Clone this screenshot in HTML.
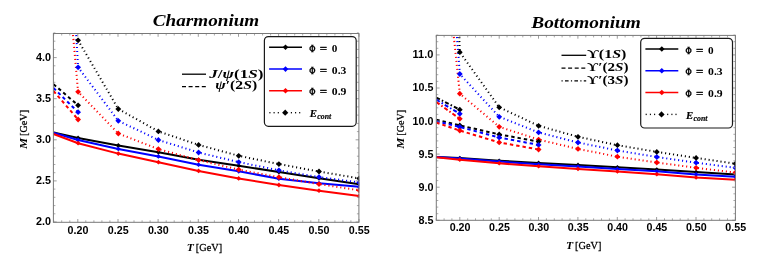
<!DOCTYPE html>
<html><head><meta charset="utf-8"><title>plot</title>
<style>html,body{margin:0;padding:0;background:#fff;}svg{display:block;will-change:transform;}text{fill:#000;}</style></head>
<body><svg width="763" height="267" viewBox="0 0 763 267">
<defs><clipPath id="cl"><rect x="53.4" y="33.5" width="305.8" height="188.8"/></clipPath>
<clipPath id="cr"><rect x="436.3" y="35.4" width="299.1" height="184.9"/></clipPath></defs>
<rect width="763" height="267" fill="#fff"/>
<g clip-path="url(#cl)">
<polyline points="53.5,132.4 78.1,138.0 118.3,145.5 158.4,152.3 198.6,159.8 238.7,165.7 278.9,172.1 319.0,178.3 359.2,184.2" fill="none" stroke="#000" stroke-width="2.0"/>
<path d="M75.7 138.0L78.1 135.6L80.5 138.0L78.1 140.4Z" fill="#000"/>
<path d="M115.9 145.5L118.3 143.1L120.7 145.5L118.3 147.9Z" fill="#000"/>
<path d="M156.0 152.3L158.4 149.9L160.8 152.3L158.4 154.7Z" fill="#000"/>
<path d="M196.2 159.8L198.6 157.4L201.0 159.8L198.6 162.2Z" fill="#000"/>
<path d="M236.3 165.7L238.7 163.3L241.1 165.7L238.7 168.1Z" fill="#000"/>
<path d="M276.5 172.1L278.9 169.7L281.3 172.1L278.9 174.5Z" fill="#000"/>
<path d="M316.6 178.3L319.0 175.9L321.4 178.3L319.0 180.7Z" fill="#000"/>
<path d="M356.8 184.2L359.2 181.8L361.6 184.2L359.2 186.6Z" fill="#000"/>
<polyline points="53.5,132.8 78.1,140.0 118.3,148.9 158.4,156.4 198.6,164.7 238.7,171.3 278.9,178.7 319.0,183.3 359.2,186.8" fill="none" stroke="#0000ff" stroke-width="2.0"/>
<path d="M75.7 140.0L78.1 137.6L80.5 140.0L78.1 142.4Z" fill="#0000ff"/>
<path d="M115.9 148.9L118.3 146.5L120.7 148.9L118.3 151.3Z" fill="#0000ff"/>
<path d="M156.0 156.4L158.4 154.0L160.8 156.4L158.4 158.8Z" fill="#0000ff"/>
<path d="M196.2 164.7L198.6 162.3L201.0 164.7L198.6 167.1Z" fill="#0000ff"/>
<path d="M236.3 171.3L238.7 168.9L241.1 171.3L238.7 173.7Z" fill="#0000ff"/>
<path d="M276.5 178.7L278.9 176.3L281.3 178.7L278.9 181.1Z" fill="#0000ff"/>
<path d="M316.6 183.3L319.0 180.9L321.4 183.3L319.0 185.7Z" fill="#0000ff"/>
<path d="M356.8 186.8L359.2 184.4L361.6 186.8L359.2 189.2Z" fill="#0000ff"/>
<polyline points="53.5,134.0 78.1,143.2 118.3,153.6 158.4,162.2 198.6,170.9 238.7,178.4 278.9,185.0 319.0,190.7 359.2,196.1" fill="none" stroke="#ff0000" stroke-width="2.0"/>
<path d="M75.7 143.2L78.1 140.8L80.5 143.2L78.1 145.6Z" fill="#ff0000"/>
<path d="M115.9 153.6L118.3 151.2L120.7 153.6L118.3 156.0Z" fill="#ff0000"/>
<path d="M156.0 162.2L158.4 159.8L160.8 162.2L158.4 164.6Z" fill="#ff0000"/>
<path d="M196.2 170.9L198.6 168.5L201.0 170.9L198.6 173.3Z" fill="#ff0000"/>
<path d="M236.3 178.4L238.7 176.0L241.1 178.4L238.7 180.8Z" fill="#ff0000"/>
<path d="M276.5 185.0L278.9 182.6L281.3 185.0L278.9 187.4Z" fill="#ff0000"/>
<path d="M316.6 190.7L319.0 188.3L321.4 190.7L319.0 193.1Z" fill="#ff0000"/>
<path d="M356.8 196.1L359.2 193.7L361.6 196.1L359.2 198.5Z" fill="#ff0000"/>
<polyline points="53.5,84.2 78.1,105.3" fill="none" stroke="#000" stroke-width="2.0" stroke-dasharray="3.4 3.0"/>
<path d="M75.2 105.3L78.1 102.4L81.0 105.3L78.1 108.2Z" fill="#000"/>
<polyline points="53.5,88.0 78.1,112.2" fill="none" stroke="#0000ff" stroke-width="2.0" stroke-dasharray="3.4 3.0"/>
<path d="M75.2 112.2L78.1 109.3L81.0 112.2L78.1 115.1Z" fill="#0000ff"/>
<polyline points="53.5,91.0 78.1,119.5" fill="none" stroke="#ff0000" stroke-width="2.0" stroke-dasharray="3.4 3.0"/>
<path d="M75.2 119.5L78.1 116.6L81.0 119.5L78.1 122.4Z" fill="#ff0000"/>
<polyline points="72.3,27.0 78.1,91.8 118.3,133.5 158.4,149.1 198.6,160.1 238.7,169.6 278.9,177.2 319.0,184.1 359.2,190.3" fill="none" stroke="#ff0000" stroke-width="2.0" stroke-dasharray="1.1 2.9"/>
<path d="M75.2 91.8L78.1 88.9L81.0 91.8L78.1 94.7Z" fill="#ff0000"/>
<path d="M115.4 133.5L118.3 130.6L121.2 133.5L118.3 136.4Z" fill="#ff0000"/>
<path d="M155.5 149.1L158.4 146.2L161.3 149.1L158.4 152.0Z" fill="#ff0000"/>
<path d="M195.7 160.1L198.6 157.2L201.5 160.1L198.6 163.0Z" fill="#ff0000"/>
<path d="M235.8 169.6L238.7 166.7L241.6 169.6L238.7 172.5Z" fill="#ff0000"/>
<path d="M276.0 177.2L278.9 174.3L281.8 177.2L278.9 180.1Z" fill="#ff0000"/>
<path d="M316.1 184.1L319.0 181.2L321.9 184.1L319.0 187.0Z" fill="#ff0000"/>
<path d="M356.3 190.3L359.2 187.4L362.1 190.3L359.2 193.2Z" fill="#ff0000"/>
<polyline points="75.8,27.0 78.1,67.3 118.3,120.8 158.4,140.0 198.6,152.5 238.7,162.1 278.9,170.3 319.0,177.1 359.2,182.4" fill="none" stroke="#0000ff" stroke-width="2.0" stroke-dasharray="1.1 2.9"/>
<path d="M75.2 67.3L78.1 64.4L81.0 67.3L78.1 70.2Z" fill="#0000ff"/>
<path d="M115.4 120.8L118.3 117.9L121.2 120.8L118.3 123.7Z" fill="#0000ff"/>
<path d="M155.5 140.0L158.4 137.1L161.3 140.0L158.4 142.9Z" fill="#0000ff"/>
<path d="M195.7 152.5L198.6 149.6L201.5 152.5L198.6 155.4Z" fill="#0000ff"/>
<path d="M235.8 162.1L238.7 159.2L241.6 162.1L238.7 165.0Z" fill="#0000ff"/>
<path d="M276.0 170.3L278.9 167.4L281.8 170.3L278.9 173.2Z" fill="#0000ff"/>
<path d="M316.1 177.1L319.0 174.2L321.9 177.1L319.0 180.0Z" fill="#0000ff"/>
<path d="M356.3 182.4L359.2 179.5L362.1 182.4L359.2 185.3Z" fill="#0000ff"/>
<polyline points="78.1,40.3 118.3,109.0 158.4,131.4 198.6,144.9 238.7,155.8 278.9,164.1 319.0,171.5 359.2,178.4" fill="none" stroke="#000" stroke-width="2.0" stroke-dasharray="1.1 2.9"/>
<path d="M75.2 40.3L78.1 37.4L81.0 40.3L78.1 43.2Z" fill="#000"/>
<path d="M115.4 109.0L118.3 106.1L121.2 109.0L118.3 111.9Z" fill="#000"/>
<path d="M155.5 131.4L158.4 128.5L161.3 131.4L158.4 134.3Z" fill="#000"/>
<path d="M195.7 144.9L198.6 142.0L201.5 144.9L198.6 147.8Z" fill="#000"/>
<path d="M235.8 155.8L238.7 152.9L241.6 155.8L238.7 158.7Z" fill="#000"/>
<path d="M276.0 164.1L278.9 161.2L281.8 164.1L278.9 167.0Z" fill="#000"/>
<path d="M316.1 171.5L319.0 168.6L321.9 171.5L319.0 174.4Z" fill="#000"/>
<path d="M356.3 178.4L359.2 175.5L362.1 178.4L359.2 181.3Z" fill="#000"/>
</g>
<g clip-path="url(#cr)">
<polyline points="436.3,157.0 459.8,158.1 499.2,160.7 538.6,162.9 578.0,164.9 617.4,167.2 656.8,169.5 696.1,172.0 735.4,174.4" fill="none" stroke="#000" stroke-width="2.0"/>
<path d="M457.5 158.1L459.8 155.8L462.1 158.1L459.8 160.4Z" fill="#000"/>
<path d="M496.9 160.7L499.2 158.4L501.5 160.7L499.2 163.0Z" fill="#000"/>
<path d="M536.3 162.9L538.6 160.6L540.9 162.9L538.6 165.2Z" fill="#000"/>
<path d="M575.7 164.9L578.0 162.6L580.3 164.9L578.0 167.2Z" fill="#000"/>
<path d="M615.1 167.2L617.4 164.9L619.7 167.2L617.4 169.5Z" fill="#000"/>
<path d="M654.5 169.5L656.8 167.2L659.1 169.5L656.8 171.8Z" fill="#000"/>
<path d="M693.8 172.0L696.1 169.7L698.4 172.0L696.1 174.3Z" fill="#000"/>
<path d="M733.1 174.4L735.4 172.1L737.7 174.4L735.4 176.7Z" fill="#000"/>
<polyline points="436.3,157.1 459.8,158.5 499.2,161.6 538.6,164.2 578.0,166.6 617.4,168.9 656.8,171.3 696.1,174.4 735.4,176.7" fill="none" stroke="#0000ff" stroke-width="2.0"/>
<path d="M457.5 158.5L459.8 156.2L462.1 158.5L459.8 160.8Z" fill="#0000ff"/>
<path d="M496.9 161.6L499.2 159.3L501.5 161.6L499.2 163.9Z" fill="#0000ff"/>
<path d="M536.3 164.2L538.6 161.9L540.9 164.2L538.6 166.5Z" fill="#0000ff"/>
<path d="M575.7 166.6L578.0 164.3L580.3 166.6L578.0 168.9Z" fill="#0000ff"/>
<path d="M615.1 168.9L617.4 166.6L619.7 168.9L617.4 171.2Z" fill="#0000ff"/>
<path d="M654.5 171.3L656.8 169.0L659.1 171.3L656.8 173.6Z" fill="#0000ff"/>
<path d="M693.8 174.4L696.1 172.1L698.4 174.4L696.1 176.7Z" fill="#0000ff"/>
<path d="M733.1 176.7L735.4 174.4L737.7 176.7L735.4 179.0Z" fill="#0000ff"/>
<polyline points="436.3,157.3 459.8,159.8 499.2,163.3 538.6,166.3 578.0,168.9 617.4,171.5 656.8,174.2 696.1,177.5 735.4,179.8" fill="none" stroke="#ff0000" stroke-width="2.0"/>
<path d="M457.5 159.8L459.8 157.5L462.1 159.8L459.8 162.1Z" fill="#ff0000"/>
<path d="M496.9 163.3L499.2 161.0L501.5 163.3L499.2 165.6Z" fill="#ff0000"/>
<path d="M536.3 166.3L538.6 164.0L540.9 166.3L538.6 168.6Z" fill="#ff0000"/>
<path d="M575.7 168.9L578.0 166.6L580.3 168.9L578.0 171.2Z" fill="#ff0000"/>
<path d="M615.1 171.5L617.4 169.2L619.7 171.5L617.4 173.8Z" fill="#ff0000"/>
<path d="M654.5 174.2L656.8 171.9L659.1 174.2L656.8 176.5Z" fill="#ff0000"/>
<path d="M693.8 177.5L696.1 175.2L698.4 177.5L696.1 179.8Z" fill="#ff0000"/>
<path d="M733.1 179.8L735.4 177.5L737.7 179.8L735.4 182.1Z" fill="#ff0000"/>
<polyline points="453.0,29.0 459.8,93.7 499.2,126.8 538.6,139.6 578.0,148.9 617.4,156.7 656.8,162.5 696.1,167.8 735.4,172.6" fill="none" stroke="#ff0000" stroke-width="2.0" stroke-dasharray="1.1 2.9"/>
<path d="M456.9 93.7L459.8 90.8L462.7 93.7L459.8 96.6Z" fill="#ff0000"/>
<path d="M496.3 126.8L499.2 123.9L502.1 126.8L499.2 129.7Z" fill="#ff0000"/>
<path d="M535.7 139.6L538.6 136.7L541.5 139.6L538.6 142.5Z" fill="#ff0000"/>
<path d="M575.1 148.9L578.0 146.0L580.9 148.9L578.0 151.8Z" fill="#ff0000"/>
<path d="M614.5 156.7L617.4 153.8L620.3 156.7L617.4 159.6Z" fill="#ff0000"/>
<path d="M653.9 162.5L656.8 159.6L659.7 162.5L656.8 165.4Z" fill="#ff0000"/>
<path d="M693.2 167.8L696.1 164.9L699.0 167.8L696.1 170.7Z" fill="#ff0000"/>
<path d="M732.5 172.6L735.4 169.7L738.3 172.6L735.4 175.5Z" fill="#ff0000"/>
<polyline points="456.4,29.0 459.8,74.0 499.2,116.8 538.6,132.4 578.0,142.5 617.4,150.5 656.8,157.0 696.1,162.7 735.4,167.8" fill="none" stroke="#0000ff" stroke-width="2.0" stroke-dasharray="1.1 2.9"/>
<path d="M456.9 74.0L459.8 71.1L462.7 74.0L459.8 76.9Z" fill="#0000ff"/>
<path d="M496.3 116.8L499.2 113.9L502.1 116.8L499.2 119.7Z" fill="#0000ff"/>
<path d="M535.7 132.4L538.6 129.5L541.5 132.4L538.6 135.3Z" fill="#0000ff"/>
<path d="M575.1 142.5L578.0 139.6L580.9 142.5L578.0 145.4Z" fill="#0000ff"/>
<path d="M614.5 150.5L617.4 147.6L620.3 150.5L617.4 153.4Z" fill="#0000ff"/>
<path d="M653.9 157.0L656.8 154.1L659.7 157.0L656.8 159.9Z" fill="#0000ff"/>
<path d="M693.2 162.7L696.1 159.8L699.0 162.7L696.1 165.6Z" fill="#0000ff"/>
<path d="M732.5 167.8L735.4 164.9L738.3 167.8L735.4 170.7Z" fill="#0000ff"/>
<polyline points="459.0,29.0 459.8,52.2 499.2,107.3 538.6,125.8 578.0,136.8 617.4,145.2 656.8,151.9 696.1,157.9 735.4,163.7" fill="none" stroke="#000" stroke-width="2.0" stroke-dasharray="1.1 2.9"/>
<path d="M456.9 52.2L459.8 49.3L462.7 52.2L459.8 55.1Z" fill="#000"/>
<path d="M496.3 107.3L499.2 104.4L502.1 107.3L499.2 110.2Z" fill="#000"/>
<path d="M535.7 125.8L538.6 122.9L541.5 125.8L538.6 128.7Z" fill="#000"/>
<path d="M575.1 136.8L578.0 133.9L580.9 136.8L578.0 139.7Z" fill="#000"/>
<path d="M614.5 145.2L617.4 142.3L620.3 145.2L617.4 148.1Z" fill="#000"/>
<path d="M653.9 151.9L656.8 149.0L659.7 151.9L656.8 154.8Z" fill="#000"/>
<path d="M693.2 157.9L696.1 155.0L699.0 157.9L696.1 160.8Z" fill="#000"/>
<path d="M732.5 163.7L735.4 160.8L738.3 163.7L735.4 166.6Z" fill="#000"/>
<polyline points="436.3,119.8 459.8,125.4 499.2,134.4 538.6,141.6" fill="none" stroke="#000" stroke-width="2.0" stroke-dasharray="3.4 3.0"/>
<path d="M456.9 125.4L459.8 122.5L462.7 125.4L459.8 128.3Z" fill="#000"/>
<path d="M496.3 134.4L499.2 131.5L502.1 134.4L499.2 137.3Z" fill="#000"/>
<path d="M535.7 141.6L538.6 138.7L541.5 141.6L538.6 144.5Z" fill="#000"/>
<polyline points="436.3,121.2 459.8,127.0 499.2,137.5 538.6,144.9" fill="none" stroke="#0000ff" stroke-width="2.0" stroke-dasharray="3.4 3.0"/>
<path d="M456.9 127.0L459.8 124.1L462.7 127.0L459.8 129.9Z" fill="#0000ff"/>
<path d="M496.3 137.5L499.2 134.6L502.1 137.5L499.2 140.4Z" fill="#0000ff"/>
<path d="M535.7 144.9L538.6 142.0L541.5 144.9L538.6 147.8Z" fill="#0000ff"/>
<polyline points="436.3,122.6 459.8,130.6 499.2,142.4 538.6,149.5" fill="none" stroke="#ff0000" stroke-width="2.0" stroke-dasharray="3.4 3.0"/>
<path d="M456.9 130.6L459.8 127.7L462.7 130.6L459.8 133.5Z" fill="#ff0000"/>
<path d="M496.3 142.4L499.2 139.5L502.1 142.4L499.2 145.3Z" fill="#ff0000"/>
<path d="M535.7 149.5L538.6 146.6L541.5 149.5L538.6 152.4Z" fill="#ff0000"/>
<polyline points="436.3,97.6 459.8,109.7" fill="none" stroke="#000" stroke-width="2.0" stroke-dasharray="4 2.2 1.5 2.2"/>
<path d="M456.9 109.7L459.8 106.8L462.7 109.7L459.8 112.6Z" fill="#000"/>
<polyline points="436.3,99.7 459.8,113.8" fill="none" stroke="#0000ff" stroke-width="2.0" stroke-dasharray="4 2.2 1.5 2.2"/>
<path d="M456.9 113.8L459.8 110.9L462.7 113.8L459.8 116.7Z" fill="#0000ff"/>
<polyline points="436.3,102.0 459.8,118.8" fill="none" stroke="#ff0000" stroke-width="2.0" stroke-dasharray="4 2.2 1.5 2.2"/>
<path d="M456.9 118.8L459.8 115.9L462.7 118.8L459.8 121.7Z" fill="#ff0000"/>
</g>
<path d="M53.7 222.3L53.7 220.3" stroke="#959595" stroke-width="0.8"/>
<path d="M53.7 33.5L53.7 35.5" stroke="#959595" stroke-width="0.8"/>
<path d="M61.7 222.3L61.7 220.3" stroke="#959595" stroke-width="0.8"/>
<path d="M61.7 33.5L61.7 35.5" stroke="#959595" stroke-width="0.8"/>
<path d="M69.8 222.3L69.8 220.3" stroke="#959595" stroke-width="0.8"/>
<path d="M69.8 33.5L69.8 35.5" stroke="#959595" stroke-width="0.8"/>
<path d="M77.8 222.3L77.8 219.0" stroke="#858585" stroke-width="0.8"/>
<path d="M77.8 33.5L77.8 36.8" stroke="#858585" stroke-width="0.8"/>
<path d="M85.8 222.3L85.8 220.3" stroke="#959595" stroke-width="0.8"/>
<path d="M85.8 33.5L85.8 35.5" stroke="#959595" stroke-width="0.8"/>
<path d="M93.9 222.3L93.9 220.3" stroke="#959595" stroke-width="0.8"/>
<path d="M93.9 33.5L93.9 35.5" stroke="#959595" stroke-width="0.8"/>
<path d="M101.9 222.3L101.9 220.3" stroke="#959595" stroke-width="0.8"/>
<path d="M101.9 33.5L101.9 35.5" stroke="#959595" stroke-width="0.8"/>
<path d="M109.9 222.3L109.9 220.3" stroke="#959595" stroke-width="0.8"/>
<path d="M109.9 33.5L109.9 35.5" stroke="#959595" stroke-width="0.8"/>
<path d="M118.0 222.3L118.0 219.0" stroke="#858585" stroke-width="0.8"/>
<path d="M118.0 33.5L118.0 36.8" stroke="#858585" stroke-width="0.8"/>
<path d="M126.0 222.3L126.0 220.3" stroke="#959595" stroke-width="0.8"/>
<path d="M126.0 33.5L126.0 35.5" stroke="#959595" stroke-width="0.8"/>
<path d="M134.0 222.3L134.0 220.3" stroke="#959595" stroke-width="0.8"/>
<path d="M134.0 33.5L134.0 35.5" stroke="#959595" stroke-width="0.8"/>
<path d="M142.1 222.3L142.1 220.3" stroke="#959595" stroke-width="0.8"/>
<path d="M142.1 33.5L142.1 35.5" stroke="#959595" stroke-width="0.8"/>
<path d="M150.1 222.3L150.1 220.3" stroke="#959595" stroke-width="0.8"/>
<path d="M150.1 33.5L150.1 35.5" stroke="#959595" stroke-width="0.8"/>
<path d="M158.1 222.3L158.1 219.0" stroke="#858585" stroke-width="0.8"/>
<path d="M158.1 33.5L158.1 36.8" stroke="#858585" stroke-width="0.8"/>
<path d="M166.2 222.3L166.2 220.3" stroke="#959595" stroke-width="0.8"/>
<path d="M166.2 33.5L166.2 35.5" stroke="#959595" stroke-width="0.8"/>
<path d="M174.2 222.3L174.2 220.3" stroke="#959595" stroke-width="0.8"/>
<path d="M174.2 33.5L174.2 35.5" stroke="#959595" stroke-width="0.8"/>
<path d="M182.2 222.3L182.2 220.3" stroke="#959595" stroke-width="0.8"/>
<path d="M182.2 33.5L182.2 35.5" stroke="#959595" stroke-width="0.8"/>
<path d="M190.3 222.3L190.3 220.3" stroke="#959595" stroke-width="0.8"/>
<path d="M190.3 33.5L190.3 35.5" stroke="#959595" stroke-width="0.8"/>
<path d="M198.3 222.3L198.3 219.0" stroke="#858585" stroke-width="0.8"/>
<path d="M198.3 33.5L198.3 36.8" stroke="#858585" stroke-width="0.8"/>
<path d="M206.3 222.3L206.3 220.3" stroke="#959595" stroke-width="0.8"/>
<path d="M206.3 33.5L206.3 35.5" stroke="#959595" stroke-width="0.8"/>
<path d="M214.4 222.3L214.4 220.3" stroke="#959595" stroke-width="0.8"/>
<path d="M214.4 33.5L214.4 35.5" stroke="#959595" stroke-width="0.8"/>
<path d="M222.4 222.3L222.4 220.3" stroke="#959595" stroke-width="0.8"/>
<path d="M222.4 33.5L222.4 35.5" stroke="#959595" stroke-width="0.8"/>
<path d="M230.4 222.3L230.4 220.3" stroke="#959595" stroke-width="0.8"/>
<path d="M230.4 33.5L230.4 35.5" stroke="#959595" stroke-width="0.8"/>
<path d="M238.5 222.3L238.5 219.0" stroke="#858585" stroke-width="0.8"/>
<path d="M238.5 33.5L238.5 36.8" stroke="#858585" stroke-width="0.8"/>
<path d="M246.5 222.3L246.5 220.3" stroke="#959595" stroke-width="0.8"/>
<path d="M246.5 33.5L246.5 35.5" stroke="#959595" stroke-width="0.8"/>
<path d="M254.5 222.3L254.5 220.3" stroke="#959595" stroke-width="0.8"/>
<path d="M254.5 33.5L254.5 35.5" stroke="#959595" stroke-width="0.8"/>
<path d="M262.6 222.3L262.6 220.3" stroke="#959595" stroke-width="0.8"/>
<path d="M262.6 33.5L262.6 35.5" stroke="#959595" stroke-width="0.8"/>
<path d="M270.6 222.3L270.6 220.3" stroke="#959595" stroke-width="0.8"/>
<path d="M270.6 33.5L270.6 35.5" stroke="#959595" stroke-width="0.8"/>
<path d="M278.6 222.3L278.6 219.0" stroke="#858585" stroke-width="0.8"/>
<path d="M278.6 33.5L278.6 36.8" stroke="#858585" stroke-width="0.8"/>
<path d="M286.7 222.3L286.7 220.3" stroke="#959595" stroke-width="0.8"/>
<path d="M286.7 33.5L286.7 35.5" stroke="#959595" stroke-width="0.8"/>
<path d="M294.7 222.3L294.7 220.3" stroke="#959595" stroke-width="0.8"/>
<path d="M294.7 33.5L294.7 35.5" stroke="#959595" stroke-width="0.8"/>
<path d="M302.7 222.3L302.7 220.3" stroke="#959595" stroke-width="0.8"/>
<path d="M302.7 33.5L302.7 35.5" stroke="#959595" stroke-width="0.8"/>
<path d="M310.8 222.3L310.8 220.3" stroke="#959595" stroke-width="0.8"/>
<path d="M310.8 33.5L310.8 35.5" stroke="#959595" stroke-width="0.8"/>
<path d="M318.8 222.3L318.8 219.0" stroke="#858585" stroke-width="0.8"/>
<path d="M318.8 33.5L318.8 36.8" stroke="#858585" stroke-width="0.8"/>
<path d="M326.8 222.3L326.8 220.3" stroke="#959595" stroke-width="0.8"/>
<path d="M326.8 33.5L326.8 35.5" stroke="#959595" stroke-width="0.8"/>
<path d="M334.9 222.3L334.9 220.3" stroke="#959595" stroke-width="0.8"/>
<path d="M334.9 33.5L334.9 35.5" stroke="#959595" stroke-width="0.8"/>
<path d="M342.9 222.3L342.9 220.3" stroke="#959595" stroke-width="0.8"/>
<path d="M342.9 33.5L342.9 35.5" stroke="#959595" stroke-width="0.8"/>
<path d="M350.9 222.3L350.9 220.3" stroke="#959595" stroke-width="0.8"/>
<path d="M350.9 33.5L350.9 35.5" stroke="#959595" stroke-width="0.8"/>
<path d="M359.0 222.3L359.0 219.0" stroke="#858585" stroke-width="0.8"/>
<path d="M359.0 33.5L359.0 36.8" stroke="#858585" stroke-width="0.8"/>
<path d="M53.4 222.0L56.7 222.0" stroke="#858585" stroke-width="0.8"/>
<path d="M358.9 222.0L355.6 222.0" stroke="#858585" stroke-width="0.8"/>
<path d="M53.4 213.8L55.4 213.8" stroke="#959595" stroke-width="0.8"/>
<path d="M358.9 213.8L356.9 213.8" stroke="#959595" stroke-width="0.8"/>
<path d="M53.4 205.6L55.4 205.6" stroke="#959595" stroke-width="0.8"/>
<path d="M358.9 205.6L356.9 205.6" stroke="#959595" stroke-width="0.8"/>
<path d="M53.4 197.3L55.4 197.3" stroke="#959595" stroke-width="0.8"/>
<path d="M358.9 197.3L356.9 197.3" stroke="#959595" stroke-width="0.8"/>
<path d="M53.4 189.1L55.4 189.1" stroke="#959595" stroke-width="0.8"/>
<path d="M358.9 189.1L356.9 189.1" stroke="#959595" stroke-width="0.8"/>
<path d="M53.4 180.9L56.7 180.9" stroke="#858585" stroke-width="0.8"/>
<path d="M358.9 180.9L355.6 180.9" stroke="#858585" stroke-width="0.8"/>
<path d="M53.4 172.7L55.4 172.7" stroke="#959595" stroke-width="0.8"/>
<path d="M358.9 172.7L356.9 172.7" stroke="#959595" stroke-width="0.8"/>
<path d="M53.4 164.5L55.4 164.5" stroke="#959595" stroke-width="0.8"/>
<path d="M358.9 164.5L356.9 164.5" stroke="#959595" stroke-width="0.8"/>
<path d="M53.4 156.2L55.4 156.2" stroke="#959595" stroke-width="0.8"/>
<path d="M358.9 156.2L356.9 156.2" stroke="#959595" stroke-width="0.8"/>
<path d="M53.4 148.0L55.4 148.0" stroke="#959595" stroke-width="0.8"/>
<path d="M358.9 148.0L356.9 148.0" stroke="#959595" stroke-width="0.8"/>
<path d="M53.4 139.8L56.7 139.8" stroke="#858585" stroke-width="0.8"/>
<path d="M358.9 139.8L355.6 139.8" stroke="#858585" stroke-width="0.8"/>
<path d="M53.4 131.6L55.4 131.6" stroke="#959595" stroke-width="0.8"/>
<path d="M358.9 131.6L356.9 131.6" stroke="#959595" stroke-width="0.8"/>
<path d="M53.4 123.4L55.4 123.4" stroke="#959595" stroke-width="0.8"/>
<path d="M358.9 123.4L356.9 123.4" stroke="#959595" stroke-width="0.8"/>
<path d="M53.4 115.1L55.4 115.1" stroke="#959595" stroke-width="0.8"/>
<path d="M358.9 115.1L356.9 115.1" stroke="#959595" stroke-width="0.8"/>
<path d="M53.4 106.9L55.4 106.9" stroke="#959595" stroke-width="0.8"/>
<path d="M358.9 106.9L356.9 106.9" stroke="#959595" stroke-width="0.8"/>
<path d="M53.4 98.7L56.7 98.7" stroke="#858585" stroke-width="0.8"/>
<path d="M358.9 98.7L355.6 98.7" stroke="#858585" stroke-width="0.8"/>
<path d="M53.4 90.5L55.4 90.5" stroke="#959595" stroke-width="0.8"/>
<path d="M358.9 90.5L356.9 90.5" stroke="#959595" stroke-width="0.8"/>
<path d="M53.4 82.3L55.4 82.3" stroke="#959595" stroke-width="0.8"/>
<path d="M358.9 82.3L356.9 82.3" stroke="#959595" stroke-width="0.8"/>
<path d="M53.4 74.0L55.4 74.0" stroke="#959595" stroke-width="0.8"/>
<path d="M358.9 74.0L356.9 74.0" stroke="#959595" stroke-width="0.8"/>
<path d="M53.4 65.8L55.4 65.8" stroke="#959595" stroke-width="0.8"/>
<path d="M358.9 65.8L356.9 65.8" stroke="#959595" stroke-width="0.8"/>
<path d="M53.4 57.6L56.7 57.6" stroke="#858585" stroke-width="0.8"/>
<path d="M358.9 57.6L355.6 57.6" stroke="#858585" stroke-width="0.8"/>
<path d="M53.4 49.4L55.4 49.4" stroke="#959595" stroke-width="0.8"/>
<path d="M358.9 49.4L356.9 49.4" stroke="#959595" stroke-width="0.8"/>
<path d="M53.4 41.2L55.4 41.2" stroke="#959595" stroke-width="0.8"/>
<path d="M358.9 41.2L356.9 41.2" stroke="#959595" stroke-width="0.8"/>
<path d="M53.4 32.9L55.4 32.9" stroke="#959595" stroke-width="0.8"/>
<path d="M358.9 32.9L356.9 32.9" stroke="#959595" stroke-width="0.8"/>
<rect x="53.4" y="33.5" width="305.5" height="188.8" fill="none" stroke="#787878" stroke-width="1"/>
<path d="M436.2 220.3L436.2 218.3" stroke="#959595" stroke-width="0.8"/>
<path d="M436.2 35.4L436.2 37.4" stroke="#959595" stroke-width="0.8"/>
<path d="M444.1 220.3L444.1 218.3" stroke="#959595" stroke-width="0.8"/>
<path d="M444.1 35.4L444.1 37.4" stroke="#959595" stroke-width="0.8"/>
<path d="M451.9 220.3L451.9 218.3" stroke="#959595" stroke-width="0.8"/>
<path d="M451.9 35.4L451.9 37.4" stroke="#959595" stroke-width="0.8"/>
<path d="M459.8 220.3L459.8 217.0" stroke="#858585" stroke-width="0.8"/>
<path d="M459.8 35.4L459.8 38.7" stroke="#858585" stroke-width="0.8"/>
<path d="M467.7 220.3L467.7 218.3" stroke="#959595" stroke-width="0.8"/>
<path d="M467.7 35.4L467.7 37.4" stroke="#959595" stroke-width="0.8"/>
<path d="M475.5 220.3L475.5 218.3" stroke="#959595" stroke-width="0.8"/>
<path d="M475.5 35.4L475.5 37.4" stroke="#959595" stroke-width="0.8"/>
<path d="M483.4 220.3L483.4 218.3" stroke="#959595" stroke-width="0.8"/>
<path d="M483.4 35.4L483.4 37.4" stroke="#959595" stroke-width="0.8"/>
<path d="M491.3 220.3L491.3 218.3" stroke="#959595" stroke-width="0.8"/>
<path d="M491.3 35.4L491.3 37.4" stroke="#959595" stroke-width="0.8"/>
<path d="M499.2 220.3L499.2 217.0" stroke="#858585" stroke-width="0.8"/>
<path d="M499.2 35.4L499.2 38.7" stroke="#858585" stroke-width="0.8"/>
<path d="M507.0 220.3L507.0 218.3" stroke="#959595" stroke-width="0.8"/>
<path d="M507.0 35.4L507.0 37.4" stroke="#959595" stroke-width="0.8"/>
<path d="M514.9 220.3L514.9 218.3" stroke="#959595" stroke-width="0.8"/>
<path d="M514.9 35.4L514.9 37.4" stroke="#959595" stroke-width="0.8"/>
<path d="M522.8 220.3L522.8 218.3" stroke="#959595" stroke-width="0.8"/>
<path d="M522.8 35.4L522.8 37.4" stroke="#959595" stroke-width="0.8"/>
<path d="M530.7 220.3L530.7 218.3" stroke="#959595" stroke-width="0.8"/>
<path d="M530.7 35.4L530.7 37.4" stroke="#959595" stroke-width="0.8"/>
<path d="M538.5 220.3L538.5 217.0" stroke="#858585" stroke-width="0.8"/>
<path d="M538.5 35.4L538.5 38.7" stroke="#858585" stroke-width="0.8"/>
<path d="M546.4 220.3L546.4 218.3" stroke="#959595" stroke-width="0.8"/>
<path d="M546.4 35.4L546.4 37.4" stroke="#959595" stroke-width="0.8"/>
<path d="M554.3 220.3L554.3 218.3" stroke="#959595" stroke-width="0.8"/>
<path d="M554.3 35.4L554.3 37.4" stroke="#959595" stroke-width="0.8"/>
<path d="M562.1 220.3L562.1 218.3" stroke="#959595" stroke-width="0.8"/>
<path d="M562.1 35.4L562.1 37.4" stroke="#959595" stroke-width="0.8"/>
<path d="M570.0 220.3L570.0 218.3" stroke="#959595" stroke-width="0.8"/>
<path d="M570.0 35.4L570.0 37.4" stroke="#959595" stroke-width="0.8"/>
<path d="M577.9 220.3L577.9 217.0" stroke="#858585" stroke-width="0.8"/>
<path d="M577.9 35.4L577.9 38.7" stroke="#858585" stroke-width="0.8"/>
<path d="M585.8 220.3L585.8 218.3" stroke="#959595" stroke-width="0.8"/>
<path d="M585.8 35.4L585.8 37.4" stroke="#959595" stroke-width="0.8"/>
<path d="M593.6 220.3L593.6 218.3" stroke="#959595" stroke-width="0.8"/>
<path d="M593.6 35.4L593.6 37.4" stroke="#959595" stroke-width="0.8"/>
<path d="M601.5 220.3L601.5 218.3" stroke="#959595" stroke-width="0.8"/>
<path d="M601.5 35.4L601.5 37.4" stroke="#959595" stroke-width="0.8"/>
<path d="M609.4 220.3L609.4 218.3" stroke="#959595" stroke-width="0.8"/>
<path d="M609.4 35.4L609.4 37.4" stroke="#959595" stroke-width="0.8"/>
<path d="M617.3 220.3L617.3 217.0" stroke="#858585" stroke-width="0.8"/>
<path d="M617.3 35.4L617.3 38.7" stroke="#858585" stroke-width="0.8"/>
<path d="M625.1 220.3L625.1 218.3" stroke="#959595" stroke-width="0.8"/>
<path d="M625.1 35.4L625.1 37.4" stroke="#959595" stroke-width="0.8"/>
<path d="M633.0 220.3L633.0 218.3" stroke="#959595" stroke-width="0.8"/>
<path d="M633.0 35.4L633.0 37.4" stroke="#959595" stroke-width="0.8"/>
<path d="M640.9 220.3L640.9 218.3" stroke="#959595" stroke-width="0.8"/>
<path d="M640.9 35.4L640.9 37.4" stroke="#959595" stroke-width="0.8"/>
<path d="M648.8 220.3L648.8 218.3" stroke="#959595" stroke-width="0.8"/>
<path d="M648.8 35.4L648.8 37.4" stroke="#959595" stroke-width="0.8"/>
<path d="M656.6 220.3L656.6 217.0" stroke="#858585" stroke-width="0.8"/>
<path d="M656.6 35.4L656.6 38.7" stroke="#858585" stroke-width="0.8"/>
<path d="M664.5 220.3L664.5 218.3" stroke="#959595" stroke-width="0.8"/>
<path d="M664.5 35.4L664.5 37.4" stroke="#959595" stroke-width="0.8"/>
<path d="M672.4 220.3L672.4 218.3" stroke="#959595" stroke-width="0.8"/>
<path d="M672.4 35.4L672.4 37.4" stroke="#959595" stroke-width="0.8"/>
<path d="M680.2 220.3L680.2 218.3" stroke="#959595" stroke-width="0.8"/>
<path d="M680.2 35.4L680.2 37.4" stroke="#959595" stroke-width="0.8"/>
<path d="M688.1 220.3L688.1 218.3" stroke="#959595" stroke-width="0.8"/>
<path d="M688.1 35.4L688.1 37.4" stroke="#959595" stroke-width="0.8"/>
<path d="M696.0 220.3L696.0 217.0" stroke="#858585" stroke-width="0.8"/>
<path d="M696.0 35.4L696.0 38.7" stroke="#858585" stroke-width="0.8"/>
<path d="M703.9 220.3L703.9 218.3" stroke="#959595" stroke-width="0.8"/>
<path d="M703.9 35.4L703.9 37.4" stroke="#959595" stroke-width="0.8"/>
<path d="M711.7 220.3L711.7 218.3" stroke="#959595" stroke-width="0.8"/>
<path d="M711.7 35.4L711.7 37.4" stroke="#959595" stroke-width="0.8"/>
<path d="M719.6 220.3L719.6 218.3" stroke="#959595" stroke-width="0.8"/>
<path d="M719.6 35.4L719.6 37.4" stroke="#959595" stroke-width="0.8"/>
<path d="M727.5 220.3L727.5 218.3" stroke="#959595" stroke-width="0.8"/>
<path d="M727.5 35.4L727.5 37.4" stroke="#959595" stroke-width="0.8"/>
<path d="M735.4 220.3L735.4 217.0" stroke="#858585" stroke-width="0.8"/>
<path d="M735.4 35.4L735.4 38.7" stroke="#858585" stroke-width="0.8"/>
<path d="M436.3 220.3L439.6 220.3" stroke="#858585" stroke-width="0.8"/>
<path d="M735.4 220.3L732.1 220.3" stroke="#858585" stroke-width="0.8"/>
<path d="M436.3 213.7L438.3 213.7" stroke="#959595" stroke-width="0.8"/>
<path d="M735.4 213.7L733.4 213.7" stroke="#959595" stroke-width="0.8"/>
<path d="M436.3 207.1L438.3 207.1" stroke="#959595" stroke-width="0.8"/>
<path d="M735.4 207.1L733.4 207.1" stroke="#959595" stroke-width="0.8"/>
<path d="M436.3 200.5L438.3 200.5" stroke="#959595" stroke-width="0.8"/>
<path d="M735.4 200.5L733.4 200.5" stroke="#959595" stroke-width="0.8"/>
<path d="M436.3 193.8L438.3 193.8" stroke="#959595" stroke-width="0.8"/>
<path d="M735.4 193.8L733.4 193.8" stroke="#959595" stroke-width="0.8"/>
<path d="M436.3 187.2L439.6 187.2" stroke="#858585" stroke-width="0.8"/>
<path d="M735.4 187.2L732.1 187.2" stroke="#858585" stroke-width="0.8"/>
<path d="M436.3 180.6L438.3 180.6" stroke="#959595" stroke-width="0.8"/>
<path d="M735.4 180.6L733.4 180.6" stroke="#959595" stroke-width="0.8"/>
<path d="M436.3 174.0L438.3 174.0" stroke="#959595" stroke-width="0.8"/>
<path d="M735.4 174.0L733.4 174.0" stroke="#959595" stroke-width="0.8"/>
<path d="M436.3 167.4L438.3 167.4" stroke="#959595" stroke-width="0.8"/>
<path d="M735.4 167.4L733.4 167.4" stroke="#959595" stroke-width="0.8"/>
<path d="M436.3 160.8L438.3 160.8" stroke="#959595" stroke-width="0.8"/>
<path d="M735.4 160.8L733.4 160.8" stroke="#959595" stroke-width="0.8"/>
<path d="M436.3 154.1L439.6 154.1" stroke="#858585" stroke-width="0.8"/>
<path d="M735.4 154.1L732.1 154.1" stroke="#858585" stroke-width="0.8"/>
<path d="M436.3 147.5L438.3 147.5" stroke="#959595" stroke-width="0.8"/>
<path d="M735.4 147.5L733.4 147.5" stroke="#959595" stroke-width="0.8"/>
<path d="M436.3 140.9L438.3 140.9" stroke="#959595" stroke-width="0.8"/>
<path d="M735.4 140.9L733.4 140.9" stroke="#959595" stroke-width="0.8"/>
<path d="M436.3 134.3L438.3 134.3" stroke="#959595" stroke-width="0.8"/>
<path d="M735.4 134.3L733.4 134.3" stroke="#959595" stroke-width="0.8"/>
<path d="M436.3 127.7L438.3 127.7" stroke="#959595" stroke-width="0.8"/>
<path d="M735.4 127.7L733.4 127.7" stroke="#959595" stroke-width="0.8"/>
<path d="M436.3 121.1L439.6 121.1" stroke="#858585" stroke-width="0.8"/>
<path d="M735.4 121.1L732.1 121.1" stroke="#858585" stroke-width="0.8"/>
<path d="M436.3 114.4L438.3 114.4" stroke="#959595" stroke-width="0.8"/>
<path d="M735.4 114.4L733.4 114.4" stroke="#959595" stroke-width="0.8"/>
<path d="M436.3 107.8L438.3 107.8" stroke="#959595" stroke-width="0.8"/>
<path d="M735.4 107.8L733.4 107.8" stroke="#959595" stroke-width="0.8"/>
<path d="M436.3 101.2L438.3 101.2" stroke="#959595" stroke-width="0.8"/>
<path d="M735.4 101.2L733.4 101.2" stroke="#959595" stroke-width="0.8"/>
<path d="M436.3 94.6L438.3 94.6" stroke="#959595" stroke-width="0.8"/>
<path d="M735.4 94.6L733.4 94.6" stroke="#959595" stroke-width="0.8"/>
<path d="M436.3 88.0L439.6 88.0" stroke="#858585" stroke-width="0.8"/>
<path d="M735.4 88.0L732.1 88.0" stroke="#858585" stroke-width="0.8"/>
<path d="M436.3 81.4L438.3 81.4" stroke="#959595" stroke-width="0.8"/>
<path d="M735.4 81.4L733.4 81.4" stroke="#959595" stroke-width="0.8"/>
<path d="M436.3 74.7L438.3 74.7" stroke="#959595" stroke-width="0.8"/>
<path d="M735.4 74.7L733.4 74.7" stroke="#959595" stroke-width="0.8"/>
<path d="M436.3 68.1L438.3 68.1" stroke="#959595" stroke-width="0.8"/>
<path d="M735.4 68.1L733.4 68.1" stroke="#959595" stroke-width="0.8"/>
<path d="M436.3 61.5L438.3 61.5" stroke="#959595" stroke-width="0.8"/>
<path d="M735.4 61.5L733.4 61.5" stroke="#959595" stroke-width="0.8"/>
<path d="M436.3 54.9L439.6 54.9" stroke="#858585" stroke-width="0.8"/>
<path d="M735.4 54.9L732.1 54.9" stroke="#858585" stroke-width="0.8"/>
<path d="M436.3 48.3L438.3 48.3" stroke="#959595" stroke-width="0.8"/>
<path d="M735.4 48.3L733.4 48.3" stroke="#959595" stroke-width="0.8"/>
<path d="M436.3 41.7L438.3 41.7" stroke="#959595" stroke-width="0.8"/>
<path d="M735.4 41.7L733.4 41.7" stroke="#959595" stroke-width="0.8"/>
<path d="M436.3 35.1L438.3 35.1" stroke="#959595" stroke-width="0.8"/>
<path d="M735.4 35.1L733.4 35.1" stroke="#959595" stroke-width="0.8"/>
<rect x="436.3" y="35.4" width="299.1" height="184.9" fill="none" stroke="#787878" stroke-width="1"/>
<text x="78.0" y="233.6" text-anchor="middle" font-family="Liberation Sans, sans-serif" font-weight="bold" font-size="10" textLength="20.8" lengthAdjust="spacingAndGlyphs">0.20</text>
<text x="460.1" y="231.2" text-anchor="middle" font-family="Liberation Sans, sans-serif" font-weight="bold" font-size="10" textLength="20.8" lengthAdjust="spacingAndGlyphs">0.20</text>
<text x="118.2" y="233.6" text-anchor="middle" font-family="Liberation Sans, sans-serif" font-weight="bold" font-size="10" textLength="20.8" lengthAdjust="spacingAndGlyphs">0.25</text>
<text x="499.5" y="231.2" text-anchor="middle" font-family="Liberation Sans, sans-serif" font-weight="bold" font-size="10" textLength="20.8" lengthAdjust="spacingAndGlyphs">0.25</text>
<text x="158.3" y="233.6" text-anchor="middle" font-family="Liberation Sans, sans-serif" font-weight="bold" font-size="10" textLength="20.8" lengthAdjust="spacingAndGlyphs">0.30</text>
<text x="538.8" y="231.2" text-anchor="middle" font-family="Liberation Sans, sans-serif" font-weight="bold" font-size="10" textLength="20.8" lengthAdjust="spacingAndGlyphs">0.30</text>
<text x="198.5" y="233.6" text-anchor="middle" font-family="Liberation Sans, sans-serif" font-weight="bold" font-size="10" textLength="20.8" lengthAdjust="spacingAndGlyphs">0.35</text>
<text x="578.2" y="231.2" text-anchor="middle" font-family="Liberation Sans, sans-serif" font-weight="bold" font-size="10" textLength="20.8" lengthAdjust="spacingAndGlyphs">0.35</text>
<text x="238.7" y="233.6" text-anchor="middle" font-family="Liberation Sans, sans-serif" font-weight="bold" font-size="10" textLength="20.8" lengthAdjust="spacingAndGlyphs">0.40</text>
<text x="617.6" y="231.2" text-anchor="middle" font-family="Liberation Sans, sans-serif" font-weight="bold" font-size="10" textLength="20.8" lengthAdjust="spacingAndGlyphs">0.40</text>
<text x="278.8" y="233.6" text-anchor="middle" font-family="Liberation Sans, sans-serif" font-weight="bold" font-size="10" textLength="20.8" lengthAdjust="spacingAndGlyphs">0.45</text>
<text x="656.9" y="231.2" text-anchor="middle" font-family="Liberation Sans, sans-serif" font-weight="bold" font-size="10" textLength="20.8" lengthAdjust="spacingAndGlyphs">0.45</text>
<text x="319.0" y="233.6" text-anchor="middle" font-family="Liberation Sans, sans-serif" font-weight="bold" font-size="10" textLength="20.8" lengthAdjust="spacingAndGlyphs">0.50</text>
<text x="696.3" y="231.2" text-anchor="middle" font-family="Liberation Sans, sans-serif" font-weight="bold" font-size="10" textLength="20.8" lengthAdjust="spacingAndGlyphs">0.50</text>
<text x="359.2" y="233.6" text-anchor="middle" font-family="Liberation Sans, sans-serif" font-weight="bold" font-size="10" textLength="20.8" lengthAdjust="spacingAndGlyphs">0.55</text>
<text x="735.7" y="231.2" text-anchor="middle" font-family="Liberation Sans, sans-serif" font-weight="bold" font-size="10" textLength="20.8" lengthAdjust="spacingAndGlyphs">0.55</text>
<text x="51.0" y="225.4" text-anchor="end" font-family="Liberation Sans, sans-serif" font-weight="bold" font-size="10" textLength="15.0" lengthAdjust="spacingAndGlyphs">2.0</text>
<text x="51.0" y="184.3" text-anchor="end" font-family="Liberation Sans, sans-serif" font-weight="bold" font-size="10" textLength="15.0" lengthAdjust="spacingAndGlyphs">2.5</text>
<text x="51.0" y="143.2" text-anchor="end" font-family="Liberation Sans, sans-serif" font-weight="bold" font-size="10" textLength="15.0" lengthAdjust="spacingAndGlyphs">3.0</text>
<text x="51.0" y="102.1" text-anchor="end" font-family="Liberation Sans, sans-serif" font-weight="bold" font-size="10" textLength="15.0" lengthAdjust="spacingAndGlyphs">3.5</text>
<text x="51.0" y="61.0" text-anchor="end" font-family="Liberation Sans, sans-serif" font-weight="bold" font-size="10" textLength="15.0" lengthAdjust="spacingAndGlyphs">4.0</text>
<text x="433.4" y="223.7" text-anchor="end" font-family="Liberation Sans, sans-serif" font-weight="bold" font-size="10" textLength="15.0" lengthAdjust="spacingAndGlyphs">8.5</text>
<text x="433.4" y="190.6" text-anchor="end" font-family="Liberation Sans, sans-serif" font-weight="bold" font-size="10" textLength="15.0" lengthAdjust="spacingAndGlyphs">9.0</text>
<text x="433.4" y="157.5" text-anchor="end" font-family="Liberation Sans, sans-serif" font-weight="bold" font-size="10" textLength="15.0" lengthAdjust="spacingAndGlyphs">9.5</text>
<text x="433.4" y="124.5" text-anchor="end" font-family="Liberation Sans, sans-serif" font-weight="bold" font-size="10" textLength="20.8" lengthAdjust="spacingAndGlyphs">10.0</text>
<text x="433.4" y="91.4" text-anchor="end" font-family="Liberation Sans, sans-serif" font-weight="bold" font-size="10" textLength="20.8" lengthAdjust="spacingAndGlyphs">10.5</text>
<text x="433.4" y="58.3" text-anchor="end" font-family="Liberation Sans, sans-serif" font-weight="bold" font-size="10" textLength="20.8" lengthAdjust="spacingAndGlyphs">11.0</text>
<text transform="translate(152.80 26.30) scale(1.1613 1)" font-family="Liberation Serif, serif" font-size="16.5" ><tspan font-weight="bold" font-style="italic">Charmonium</tspan></text>
<text transform="translate(531.28 28.00) scale(1.1731 1)" font-family="Liberation Serif, serif" font-size="16.5" ><tspan font-weight="bold" font-style="italic">Bottomonium</tspan></text>
<text transform="translate(186.80 251.20) scale(1.0398 1)" font-family="Liberation Serif, serif" font-size="11.2" ><tspan font-weight="bold" font-style="italic">T</tspan></text>
<text transform="translate(195.80 251.20) scale(0.9752 1)" font-family="Liberation Serif, serif" font-size="10.6" stroke="#000" stroke-width="0.25"><tspan >[GeV]</tspan></text>
<text transform="translate(566.00 248.90) scale(1.0398 1)" font-family="Liberation Serif, serif" font-size="11.2" ><tspan font-weight="bold" font-style="italic">T</tspan></text>
<text transform="translate(575.00 248.90) scale(0.9752 1)" font-family="Liberation Serif, serif" font-size="10.6" stroke="#000" stroke-width="0.25"><tspan >[GeV]</tspan></text>
<text transform="rotate(-90 27.1 149.1) translate(27.27 149.10) scale(1.1227 1)" font-family="Liberation Serif, serif" font-size="11.2" ><tspan font-weight="bold" font-style="italic">M</tspan></text>
<text transform="rotate(-90 27.1 149.1) translate(40.30 149.10) scale(0.9604 1)" font-family="Liberation Serif, serif" font-size="10.6" stroke="#000" stroke-width="0.25"><tspan >[GeV]</tspan></text>
<text transform="rotate(-90 403.6 148.9) translate(403.77 148.90) scale(1.1227 1)" font-family="Liberation Serif, serif" font-size="11.2" ><tspan font-weight="bold" font-style="italic">M</tspan></text>
<text transform="rotate(-90 403.6 148.9) translate(416.80 148.90) scale(0.9604 1)" font-family="Liberation Serif, serif" font-size="10.6" stroke="#000" stroke-width="0.25"><tspan >[GeV]</tspan></text>
<path d="M182 74.2L206 74.2" stroke="#000" stroke-width="1.3"/>
<path d="M182 86.7L206 86.7" stroke="#000" stroke-width="1.3" stroke-dasharray="4 2.6"/>
<text transform="translate(209.33 77.70) scale(1.3104 1)" font-family="Liberation Serif, serif" font-size="13" ><tspan font-weight="bold" font-style="italic">J</tspan><tspan font-weight="bold">/</tspan><tspan font-weight="bold" font-style="italic">ψ</tspan><tspan font-weight="bold">(1</tspan><tspan font-weight="bold" font-style="italic">S</tspan><tspan font-weight="bold">)</tspan></text>
<text transform="translate(215.20 89.40) scale(1.2094 1)" font-family="Liberation Serif, serif" font-size="13" ><tspan font-weight="bold" font-style="italic">ψ</tspan><tspan font-weight="bold">′(2</tspan><tspan font-weight="bold" font-style="italic">S</tspan><tspan font-weight="bold">)</tspan></text>
<path d="M561.5 55.3L586.2 55.3" stroke="#000" stroke-width="1.3"/>
<path d="M561.5 68.1L586.2 68.1" stroke="#000" stroke-width="1.3" stroke-dasharray="4 2.6"/>
<path d="M561.5 80.9L586.2 80.9" stroke="#000" stroke-width="1.3" stroke-dasharray="1.2 2.3 3.6 2.3"/>
<text transform="translate(587.30 58.10) scale(1.2305 1)" font-family="Liberation Serif, serif" font-size="13" ><tspan font-weight="bold">ϒ(1</tspan><tspan font-weight="bold" font-style="italic">S</tspan><tspan font-weight="bold">)</tspan></text>
<text transform="translate(587.30 70.60) scale(1.1628 1)" font-family="Liberation Serif, serif" font-size="13" ><tspan font-weight="bold">ϒ′(2</tspan><tspan font-weight="bold" font-style="italic">S</tspan><tspan font-weight="bold">)</tspan></text>
<text transform="translate(587.30 83.90) scale(1.1628 1)" font-family="Liberation Serif, serif" font-size="13" ><tspan font-weight="bold">ϒ′(3</tspan><tspan font-weight="bold" font-style="italic">S</tspan><tspan font-weight="bold">)</tspan></text>
<rect x="264.4" y="36.6" width="91.8" height="89.7" rx="4" ry="4" fill="#fff" stroke="#1a1a1a" stroke-width="1.2"/>
<path d="M269.1 47.3L302.0 47.3" stroke="#000" stroke-width="1.5"/>
<path d="M282.7 47.3L285.5 44.5L288.3 47.3L285.5 50.1Z" fill="#000"/>
<text transform="translate(309.20 51.80) scale(0.7056 1)" font-family="Liberation Serif, serif" font-size="10.6" stroke="#000" stroke-width="0.3"><tspan font-weight="bold">Φ</tspan></text>
<text transform="translate(319.70 51.80) scale(1.2248 1)" font-family="Liberation Serif, serif" font-size="10.6" stroke="#000" stroke-width="0.3"><tspan font-weight="bold">=</tspan></text>
<text transform="translate(331.80 51.80) scale(1.0566 1)" font-family="Liberation Serif, serif" font-size="10.6" ><tspan font-weight="bold">0</tspan></text>
<path d="M269.1 69.1L302.0 69.1" stroke="#0000ff" stroke-width="1.5"/>
<path d="M282.7 69.1L285.5 66.3L288.3 69.1L285.5 71.9Z" fill="#0000ff"/>
<text transform="translate(309.20 73.60) scale(0.7056 1)" font-family="Liberation Serif, serif" font-size="10.6" stroke="#000" stroke-width="0.3"><tspan font-weight="bold">Φ</tspan></text>
<text transform="translate(319.70 73.60) scale(1.2248 1)" font-family="Liberation Serif, serif" font-size="10.6" stroke="#000" stroke-width="0.3"><tspan font-weight="bold">=</tspan></text>
<text transform="translate(331.80 73.60) scale(1.1019 1)" font-family="Liberation Serif, serif" font-size="10.6" ><tspan font-weight="bold">0.3</tspan></text>
<path d="M269.1 90.8L302.0 90.8" stroke="#ff0000" stroke-width="1.5"/>
<path d="M282.7 90.8L285.5 88.0L288.3 90.8L285.5 93.6Z" fill="#ff0000"/>
<text transform="translate(309.20 95.30) scale(0.7056 1)" font-family="Liberation Serif, serif" font-size="10.6" stroke="#000" stroke-width="0.3"><tspan font-weight="bold">Φ</tspan></text>
<text transform="translate(319.70 95.30) scale(1.2248 1)" font-family="Liberation Serif, serif" font-size="10.6" stroke="#000" stroke-width="0.3"><tspan font-weight="bold">=</tspan></text>
<text transform="translate(331.80 95.30) scale(1.1019 1)" font-family="Liberation Serif, serif" font-size="10.6" ><tspan font-weight="bold">0.9</tspan></text>
<rect x="269.35" y="112.00" width="1.1" height="1.4" fill="#000"/>
<rect x="273.55" y="112.00" width="1.1" height="1.4" fill="#000"/>
<rect x="277.75" y="112.00" width="1.1" height="1.4" fill="#000"/>
<rect x="290.85" y="112.00" width="1.1" height="1.4" fill="#000"/>
<rect x="295.05" y="112.00" width="1.1" height="1.4" fill="#000"/>
<rect x="299.15" y="112.00" width="1.1" height="1.4" fill="#000"/>
<path d="M282.1 112.7L285.2 109.6L288.3 112.7L285.2 115.8Z" fill="#000"/>
<text transform="translate(309.78 117.10) scale(1.0307 1)" font-family="Liberation Serif, serif" font-size="10.5" stroke="#000" stroke-width="0.2"><tspan font-weight="bold" font-style="italic">E</tspan></text>
<text transform="translate(317.30 118.90) scale(1.0713 1)" font-family="Liberation Serif, serif" font-size="7.3" stroke="#000" stroke-width="0.15"><tspan font-weight="bold" font-style="italic">cont</tspan></text>
<rect x="640.7" y="38.3" width="91.8" height="89.7" rx="4" ry="4" fill="#fff" stroke="#1a1a1a" stroke-width="1.2"/>
<path d="M645.4 49.0L678.3 49.0" stroke="#000" stroke-width="1.5"/>
<path d="M659.0 49.0L661.8 46.2L664.6 49.0L661.8 51.8Z" fill="#000"/>
<text transform="translate(685.50 53.50) scale(0.7056 1)" font-family="Liberation Serif, serif" font-size="10.6" stroke="#000" stroke-width="0.3"><tspan font-weight="bold">Φ</tspan></text>
<text transform="translate(696.00 53.50) scale(1.2248 1)" font-family="Liberation Serif, serif" font-size="10.6" stroke="#000" stroke-width="0.3"><tspan font-weight="bold">=</tspan></text>
<text transform="translate(708.10 53.50) scale(1.0566 1)" font-family="Liberation Serif, serif" font-size="10.6" ><tspan font-weight="bold">0</tspan></text>
<path d="M645.4 70.8L678.3 70.8" stroke="#0000ff" stroke-width="1.5"/>
<path d="M659.0 70.8L661.8 68.0L664.6 70.8L661.8 73.6Z" fill="#0000ff"/>
<text transform="translate(685.50 75.30) scale(0.7056 1)" font-family="Liberation Serif, serif" font-size="10.6" stroke="#000" stroke-width="0.3"><tspan font-weight="bold">Φ</tspan></text>
<text transform="translate(696.00 75.30) scale(1.2248 1)" font-family="Liberation Serif, serif" font-size="10.6" stroke="#000" stroke-width="0.3"><tspan font-weight="bold">=</tspan></text>
<text transform="translate(708.10 75.30) scale(1.1019 1)" font-family="Liberation Serif, serif" font-size="10.6" ><tspan font-weight="bold">0.3</tspan></text>
<path d="M645.4 92.5L678.3 92.5" stroke="#ff0000" stroke-width="1.5"/>
<path d="M659.0 92.5L661.8 89.7L664.6 92.5L661.8 95.3Z" fill="#ff0000"/>
<text transform="translate(685.50 97.00) scale(0.7056 1)" font-family="Liberation Serif, serif" font-size="10.6" stroke="#000" stroke-width="0.3"><tspan font-weight="bold">Φ</tspan></text>
<text transform="translate(696.00 97.00) scale(1.2248 1)" font-family="Liberation Serif, serif" font-size="10.6" stroke="#000" stroke-width="0.3"><tspan font-weight="bold">=</tspan></text>
<text transform="translate(708.10 97.00) scale(1.1019 1)" font-family="Liberation Serif, serif" font-size="10.6" ><tspan font-weight="bold">0.9</tspan></text>
<rect x="645.65" y="113.70" width="1.1" height="1.4" fill="#000"/>
<rect x="649.85" y="113.70" width="1.1" height="1.4" fill="#000"/>
<rect x="654.05" y="113.70" width="1.1" height="1.4" fill="#000"/>
<rect x="667.15" y="113.70" width="1.1" height="1.4" fill="#000"/>
<rect x="671.35" y="113.70" width="1.1" height="1.4" fill="#000"/>
<rect x="675.45" y="113.70" width="1.1" height="1.4" fill="#000"/>
<path d="M658.4 114.4L661.5 111.3L664.6 114.4L661.5 117.5Z" fill="#000"/>
<text transform="translate(686.08 118.80) scale(1.0307 1)" font-family="Liberation Serif, serif" font-size="10.5" stroke="#000" stroke-width="0.2"><tspan font-weight="bold" font-style="italic">E</tspan></text>
<text transform="translate(693.60 120.60) scale(1.0713 1)" font-family="Liberation Serif, serif" font-size="7.3" stroke="#000" stroke-width="0.15"><tspan font-weight="bold" font-style="italic">cont</tspan></text>
</svg></body></html>
